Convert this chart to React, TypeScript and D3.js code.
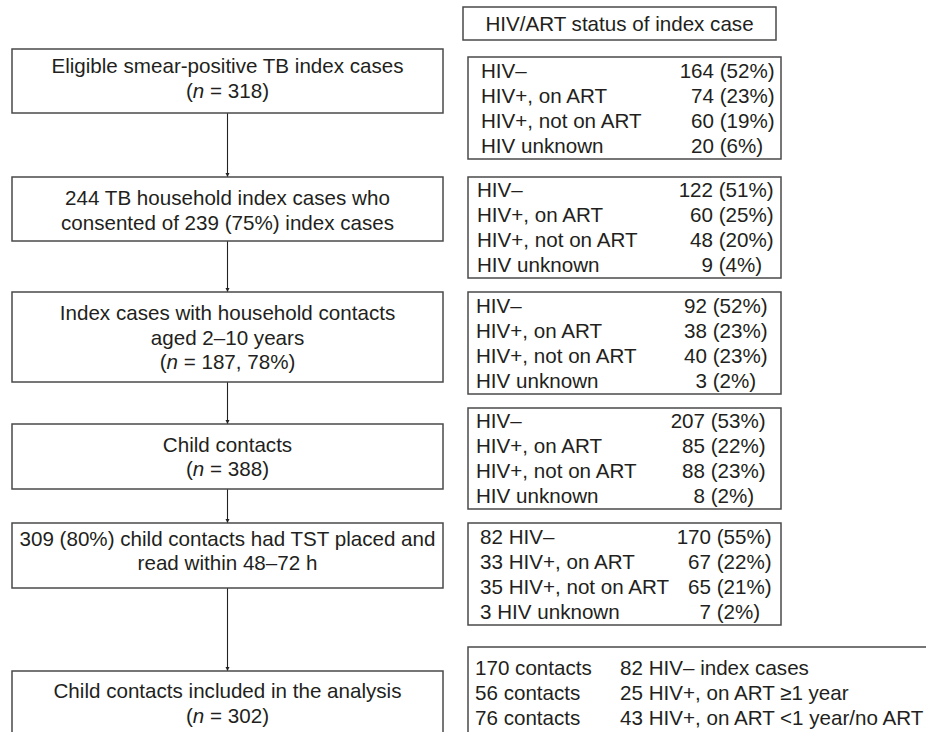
import { useEffect, useRef } from 'react';
import * as d3 from 'd3';

// Flow steps (left column)
const stepLines: string[][] = [
  ['Eligible smear-positive TB index cases', '(n = 318)'],
  ['244 TB household index cases who', 'consented of 239 (75%) index cases'],
  ['Index cases with household contacts', 'aged 2–10 years', '(n = 187, 78%)'],
  ['Child contacts', '(n = 388)'],
  ['309 (80%) child contacts had TST placed and', 'read within 48–72 h'],
  ['Child contacts included in the analysis', '(n = 302)'],
];

// HIV/ART status tables (right column)
const headerText = 'HIV/ART status of index case';
const statusLabels = ['HIV–', 'HIV+, on ART', 'HIV+, not on ART', 'HIV unknown'];
const eligibleCounts = [164, 74, 60, 20];
const eligiblePct = [52, 23, 19, 6];
const consentedCounts = [122, 60, 48, 9];
const consentedPct = [51, 25, 20, 4];
const withContactsCounts = [92, 38, 40, 3];
const withContactsPct = [52, 23, 23, 2];
const childCounts = [207, 85, 88, 8];
const childPct = [53, 22, 23, 2];
const tstIndexCounts = [82, 33, 35, 3];
const tstCounts = [170, 67, 65, 7];
const tstPct = [55, 22, 21, 2];

// Analysis breakdown
const analysisContacts = [170, 56, 76];
const analysisGroups = ['82 HIV– index cases', '25 HIV+, on ART ≥1 year', '43 HIV+, on ART <1 year/no ART'];

export default function App() {
  const ref = useRef<SVGSVGElement>(null);

  useEffect(() => {
    const svg = d3.select(ref.current);
    svg.selectAll('*').remove();

    const font = '"Liberation Sans", Arial, Helvetica, sans-serif';
    const fs = 20.6;
    const boxStroke = '#4a4a4a';
    const textColor = '#231f20';

    // layout of left boxes: top, bottom, first baseline offset
    const leftX0 = 12;
    const leftX1 = 443;
    const leftCx = (leftX0 + leftX1) / 2;
    const leftBoxes = [
      { y0: 49, y1: 113, off: 24 },
      { y0: 177, y1: 241, off: 28 },
      { y0: 292, y1: 382, off: 28 },
      { y0: 424, y1: 489, off: 27.5 },
      { y0: 523, y1: 588, off: 22.5 },
      { y0: 671, y1: 790, off: 27 },
    ];
    const lh = 24.5;

    const g = svg.append('g').attr('font-family', font).attr('font-size', fs).attr('fill', textColor);

    // arrows
    svg
      .append('defs')
      .append('marker')
      .attr('id', 'arr')
      .attr('viewBox', '0 0 6 6')
      .attr('refX', 6)
      .attr('refY', 3)
      .attr('markerWidth', 4)
      .attr('markerHeight', 4)
      .attr('orient', 'auto')
      .append('path')
      .attr('d', 'M0,0L6,3L0,6Z')
      .attr('fill', '#222');

    d3.pairs(leftBoxes).forEach(([a, b]) => {
      g.append('line')
        .attr('x1', leftCx)
        .attr('x2', leftCx)
        .attr('y1', a.y1)
        .attr('y2', b.y0)
        .attr('stroke', '#222')
        .attr('stroke-width', 1.1)
        .attr('marker-end', 'url(#arr)');
    });

    const addLine = (sel: any, line: string, x: number, y: number, anchor: string) => {
      const t = sel.append('text').attr('x', x).attr('y', y).attr('text-anchor', anchor);
      if (line.startsWith('(n ')) {
        t.append('tspan').text('(');
        t.append('tspan').attr('font-style', 'italic').text('n');
        t.append('tspan').text(line.slice(2));
      } else {
        t.text(line);
      }
      return t;
    };

    leftBoxes.forEach((b, i) => {
      g.append('rect')
        .attr('x', leftX0)
        .attr('y', b.y0)
        .attr('width', leftX1 - leftX0)
        .attr('height', b.y1 - b.y0)
        .attr('fill', 'white')
        .attr('stroke', boxStroke)
        .attr('stroke-width', 1.5);
      stepLines[i].forEach((line, j) => {
        addLine(g, line, leftCx, b.y0 + b.off + j * lh, 'middle');
      });
    });

    // header
    g.append('rect')
      .attr('x', 463)
      .attr('y', 7)
      .attr('width', 313)
      .attr('height', 33)
      .attr('fill', 'white')
      .attr('stroke', boxStroke)
      .attr('stroke-width', 1.5);
    g.append('text').attr('x', 619.5).attr('y', 31).attr('text-anchor', 'middle').text(headerText);

    // status tables
    const tables = [
      { labels: statusLabels, counts: eligibleCounts, pct: eligiblePct },
      { labels: statusLabels, counts: consentedCounts, pct: consentedPct },
      { labels: statusLabels, counts: withContactsCounts, pct: withContactsPct },
      { labels: statusLabels, counts: childCounts, pct: childPct },
      { labels: statusLabels.map((l, i) => `${tstIndexCounts[i]} ${l}`), counts: tstCounts, pct: tstPct },
    ];
    const rightBoxes = [
      { y0: 57, y1: 159, lx: 481, cx: 714 },
      { y0: 177, y1: 278, lx: 477, cx: 713 },
      { y0: 292, y1: 394, lx: 476, cx: 707 },
      { y0: 408, y1: 509, lx: 476, cx: 705 },
      { y0: 523, y1: 625, lx: 480, cx: 711 },
    ];
    const rowH = 25;
    tables.forEach((tb, i) => {
      const b = rightBoxes[i];
      g.append('rect')
        .attr('x', 468)
        .attr('y', b.y0)
        .attr('width', 313)
        .attr('height', b.y1 - b.y0)
        .attr('fill', 'white')
        .attr('stroke', boxStroke)
        .attr('stroke-width', 1.5);
      const rows = d3.scaleLinear().domain([0, 1]).range([0, rowH]);
      const base0 = (b.y0 + b.y1) / 2 - (rowH * 3) / 2 + 7.3;
      tb.labels.forEach((lab, j) => {
        const y = base0 + rows(j);
        g.append('text').attr('x', b.lx).attr('y', y).text(lab);
        g.append('text').attr('x', b.cx).attr('y', y).attr('text-anchor', 'end').text(String(tb.counts[j]));
        g.append('text')
          .attr('x', b.cx + 5.7)
          .attr('y', y)
          .text(`(${tb.pct[j]}%)`);
      });
    });

    // analysis box
    g.append('rect')
      .attr('x', 468)
      .attr('y', 647)
      .attr('width', 500)
      .attr('height', 150)
      .attr('fill', 'white')
      .attr('stroke', boxStroke)
      .attr('stroke-width', 1.5);
    analysisContacts.forEach((c, j) => {
      const y = 675 + j * rowH;
      g.append('text').attr('x', 475).attr('y', y).text(`${c} contacts`);
      g.append('text').attr('x', 620).attr('y', y).text(analysisGroups[j]);
    });
  }, []);

  return (
    <svg
      ref={ref}
      width={926}
      height={732}
      style={{ position: 'absolute', left: 0, top: 0, background: 'white' }}
    />
  );
}
